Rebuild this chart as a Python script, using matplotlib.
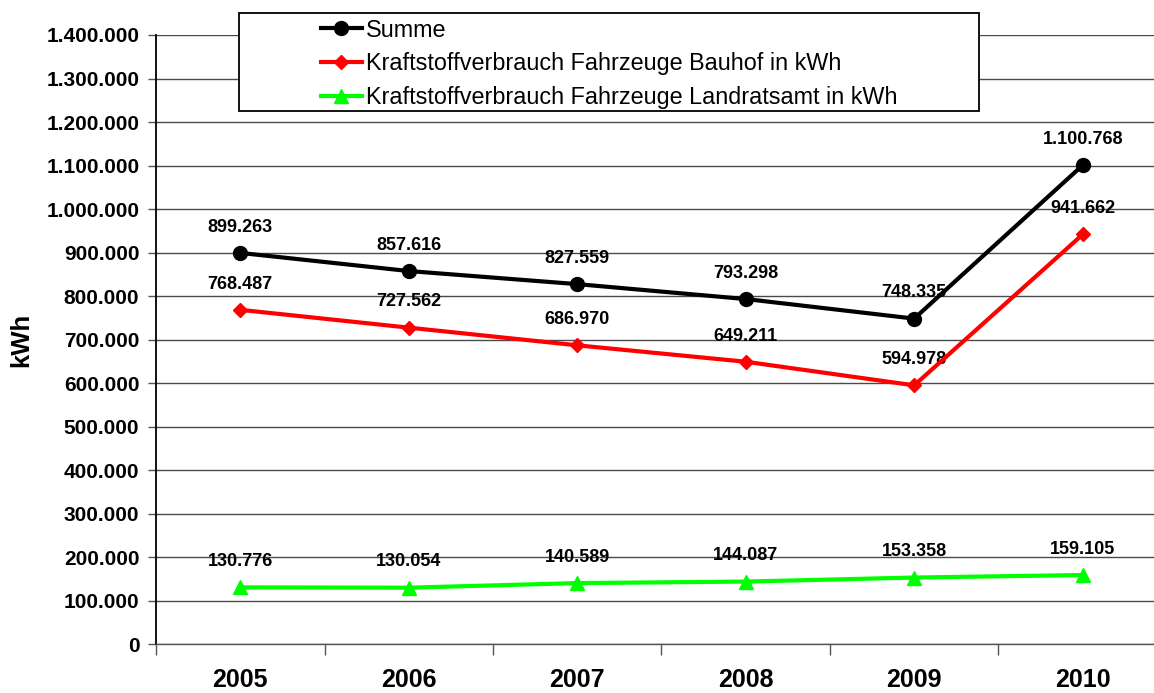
import matplotlib
matplotlib.use("Agg")
import matplotlib.pyplot as plt
from matplotlib.patches import Rectangle

plt.rcParams['font.family'] = ['Liberation Sans', 'DejaVu Sans']

years = ['2005', '2006', '2007', '2008', '2009', '2010']
summe = [899263, 857616, 827559, 793298, 748335, 1100768]
bauhof = [768487, 727562, 686970, 649211, 594978, 941662]
landratsamt = [130776, 130054, 140589, 144087, 153358, 159105]

series = [
    (summe, 'Summe', 'black', 'o', 10),
    (bauhof, 'Kraftstoffverbrauch Fahrzeuge Bauhof in kWh', '#ff0000', 'D', 7.5),
    (landratsamt, 'Kraftstoffverbrauch Fahrzeuge Landratsamt in kWh', '#00ff00', '^', 10),
]


def fmt(v):
    return f"{v:,}".replace(',', '.')


fig = plt.figure(figsize=(11.54, 6.93), dpi=100)
ax = fig.add_axes([0.1352, 0.0703, 0.876, 0.8792])

x = list(range(len(years)))
for vals, label, color, marker, ms in series:
    ax.plot(x, vals, color=color, lw=3, marker=marker, ms=ms,
            label=label, zorder=3, clip_on=False)
    for xi, v in zip(x, vals):
        ax.annotate(fmt(v), (xi, v), xytext=(0, 18.5), textcoords='offset points',
                    ha='center', va='center', fontsize=13, fontweight='bold',
                    zorder=2.5)

ax.set_xlim(-0.5, 5.5)
ax.set_ylim(0, 1400000)
ax.set_yticks(range(0, 1400001, 100000))
ax.set_yticklabels([fmt(v) for v in range(0, 1400001, 100000)],
                   fontsize=15, fontweight='bold')
ax.set_xticks(x)
ax.set_xticklabels(years, fontsize=18, fontweight='bold')
ax.set_xticks([i + 0.5 for i in range(-1, 6)], minor=True)
ax.tick_params(axis='x', which='major', length=0, pad=17)
ax.tick_params(axis='x', which='minor', length=8, width=1, color='#555555')
ax.tick_params(axis='y', length=6, width=1, color='#555555', pad=6)

ax.set_ylabel('kWh', fontsize=18.5, fontweight='bold', labelpad=9)

ax.grid(axis='y', color='#4a4a4a', lw=1)
ax.set_axisbelow(True)
for s in ['top', 'right']:
    ax.spines[s].set_visible(False)
ax.spines['left'].set_color('black')
ax.spines['left'].set_linewidth(1.3)
ax.spines['bottom'].set_color('#555555')
ax.spines['bottom'].set_linewidth(1)

# legend frame (Excel style, wide box)
fig.patches.append(Rectangle((239 / 1154, 1 - 111 / 693), 740 / 1154, 98 / 693,
                             transform=fig.transFigure, facecolor='white',
                             edgecolor='black', lw=1.3, zorder=5))
leg = fig.legend(loc='upper left', bbox_to_anchor=(309 / 1154, 1 - 7 / 693),
                 frameon=False, fontsize=16.8, handlelength=1.75,
                 handletextpad=0.2, labelspacing=0.46, borderpad=0.0)
leg.set_zorder(6)

fig.savefig('out.png', dpi=100)
